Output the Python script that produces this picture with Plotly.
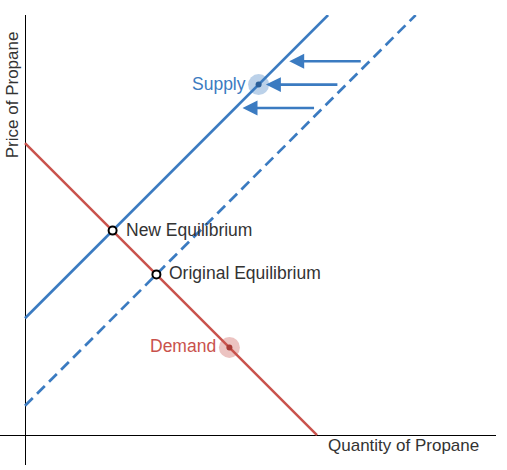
import plotly.graph_objects as go

# ---- data (price vs quantity, arbitrary units) ----
demand_q = [0, 10]
demand_p = [10, 0]
supply_new_q = [0, 10.38]
supply_new_p = [4, 14.38]
supply_orig_q = [0, 13.38]
supply_orig_p = [1, 14.38]

eq_labels = ["New Equilibrium", "Original Equilibrium"]
eq_q = [3, 4.5]
eq_p = [7, 5.5]

supply_label_pt = (8, 12)
demand_label_pt = (7, 3)

arrow_p = [12.8, 12.0, 11.2]
arrow_tail_q = [11.55, 10.75, 9.95]
arrow_head_q = [9.05, 8.25, 7.45]

BLUE = "#3b7bc1"
RED = "#c9524c"
DARK = "#333333"
FONT = "Liberation Sans, Arial, sans-serif"
FS = 17.5
FS_AX = 17

fig = go.Figure()

fig.add_trace(go.Scatter(x=demand_q, y=demand_p, mode="lines",
                         line=dict(color=RED, width=2.5), hoverinfo="skip"))
fig.add_trace(go.Scatter(x=supply_orig_q, y=supply_orig_p, mode="lines",
                         line=dict(color=BLUE, width=2.7, dash="11px,6px"), hoverinfo="skip"))
fig.add_trace(go.Scatter(x=supply_new_q, y=supply_new_p, mode="lines",
                         line=dict(color=BLUE, width=2.7), hoverinfo="skip"))

# label halos
fig.add_trace(go.Scatter(x=[supply_label_pt[0]], y=[supply_label_pt[1]], mode="markers",
                         marker=dict(size=21, color=BLUE, opacity=0.35, line=dict(width=0)),
                         hoverinfo="skip"))
fig.add_trace(go.Scatter(x=[supply_label_pt[0]], y=[supply_label_pt[1]], mode="markers",
                         marker=dict(size=6, color="#2b5f99", line=dict(width=0)),
                         hoverinfo="skip"))
fig.add_trace(go.Scatter(x=[demand_label_pt[0]], y=[demand_label_pt[1]], mode="markers",
                         marker=dict(size=21, color=RED, opacity=0.35, line=dict(width=0)),
                         hoverinfo="skip"))
fig.add_trace(go.Scatter(x=[demand_label_pt[0]], y=[demand_label_pt[1]], mode="markers",
                         marker=dict(size=6, color="#a83a35", line=dict(width=0)),
                         hoverinfo="skip"))

# equilibrium points
fig.add_trace(go.Scatter(x=eq_q, y=eq_p, mode="markers",
                         marker=dict(size=8, color="white", line=dict(color="black", width=2)),
                         hoverinfo="skip"))

annotations = []
for lab, q, p in zip(eq_labels, eq_q, eq_p):
    annotations.append(dict(x=q, y=p, text=lab, showarrow=False, xanchor="left",
                            yanchor="middle", xshift=11, yshift=1,
                            font=dict(family=FONT, size=FS, color=DARK)))
annotations.append(dict(x=supply_label_pt[0], y=supply_label_pt[1], text="Supply",
                        showarrow=False, xanchor="right", yanchor="middle", xshift=-11, yshift=1,
                        font=dict(family=FONT, size=FS, color=BLUE)))
annotations.append(dict(x=demand_label_pt[0], y=demand_label_pt[1], text="Demand",
                        showarrow=False, xanchor="right", yanchor="middle", xshift=-11, yshift=1,
                        font=dict(family=FONT, size=FS, color=RED)))
for p, tq, hq in zip(arrow_p, arrow_tail_q, arrow_head_q):
    annotations.append(dict(x=hq, y=p, ax=tq, ay=p, axref="x", ayref="y", xref="x", yref="y",
                            text="", showarrow=True, arrowhead=2, arrowsize=1.15,
                            arrowwidth=2.6, arrowcolor=BLUE, standoff=0, startstandoff=0))
annotations.append(dict(x=15.6, y=0, text="Quantity of Propane", showarrow=False,
                        xanchor="right", yanchor="top", yshift=1,
                        font=dict(family=FONT, size=FS_AX, color=DARK)))
annotations.append(dict(x=0, y=13.88, text="Price of Propane", showarrow=False,
                        xanchor="center", yanchor="top", xshift=-13, textangle=-90,
                        font=dict(family=FONT, size=FS_AX, color=DARK)))

fig.update_layout(
    width=507, height=470,
    margin=dict(l=0, r=11, t=15, b=5),
    paper_bgcolor="white", plot_bgcolor="white",
    showlegend=False,
    hovermode=False,
    annotations=annotations,
    xaxis=dict(range=[-0.856, 16.13], showgrid=False, showticklabels=False, ticks="",
               zeroline=True, zerolinecolor="black", zerolinewidth=1.2, fixedrange=True),
    yaxis=dict(range=[-1.027, 14.384], showgrid=False, showticklabels=False, ticks="",
               zeroline=True, zerolinecolor="black", zerolinewidth=1.2, fixedrange=True),
)

fig.write_html("out.html", config={"displayModeBar": False},
               post_script="document.body.style.margin='0px';")
